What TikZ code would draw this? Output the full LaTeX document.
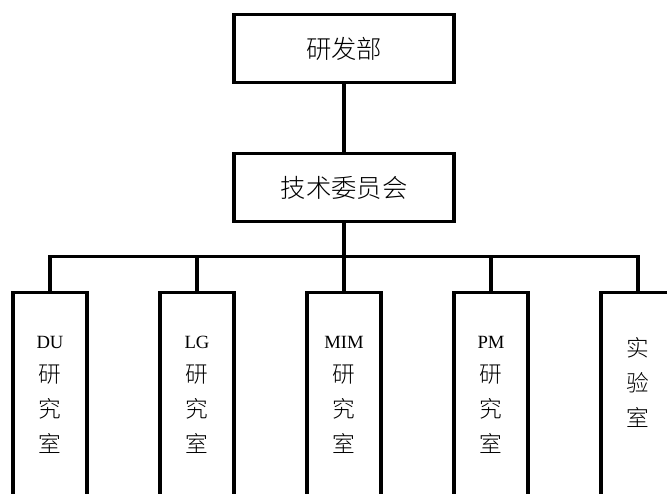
\documentclass[tikz,border=0pt]{standalone}
\usepackage{fontspec}
\setmainfont{Noto Sans CJK SC}[UprightFont={* Light}]
\newfontfamily\latinserif{Liberation Serif}
\newcommand\abbr[1]{{\latinserif\fontsize{14pt}{26pt}\selectfont #1}}

\begin{document}
\begin{tikzpicture}[x=0.75pt,y=-0.75pt,line width=2.4pt,
    dept/.style={draw,minimum width=165pt,minimum height=51pt,inner sep=0pt,outer sep=0pt,
      font=\fontsize{19pt}{23pt}\selectfont},
    unit/.style={draw,anchor=north,text width=55.5pt,align=center,inner sep=0pt,outer sep=0pt,
      text height=41.5pt,text depth=125pt,font=\fontsize{17pt}{26pt}\selectfont}]
            \useasboundingbox (0,0) rectangle (667,493);
            \node[dept] (rd) at (344,48.8) {研发部};
            \node[dept] (tech) at (344,187.5) {技术委员会};
            \coordinate (bus) at (344,256.7);
            \node[unit] (du) at (50,292.7) {\abbr{DU}\\研\\究\\室};
            \node[unit] (lg) at (197,292.7) {\abbr{LG}\\研\\究\\室};
            \node[unit] (mim) at (344,292.7) {\abbr{MIM}\\研\\究\\室};
            \node[unit] (pm) at (491,292.7) {\abbr{PM}\\研\\究\\室};
            \node[unit,text height=48pt,text depth=118.5pt] (lab) at (638,292.7) {实\\验\\室};
            \draw (rd) -- (tech);
            \draw (tech) -- (bus);
            \foreach \n in {du,lg,mim,pm,lab} \draw (bus) -| (\n.north);
\end{tikzpicture}
\end{document}
